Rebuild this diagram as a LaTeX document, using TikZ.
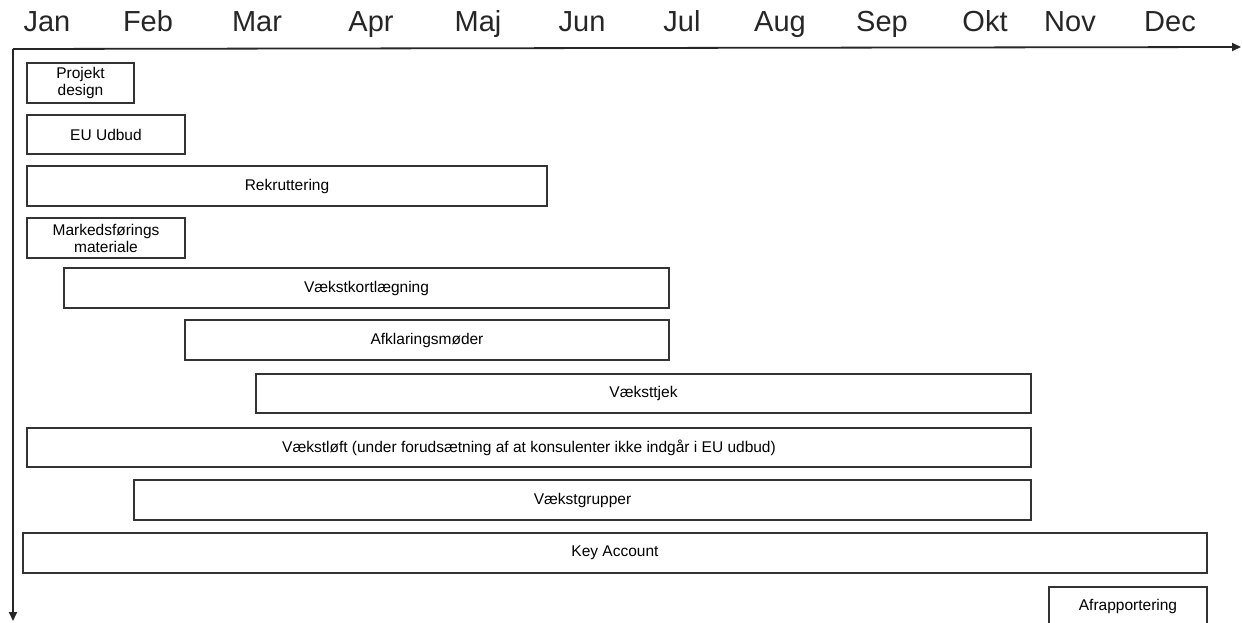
\documentclass[tikz,border=0pt]{standalone}
\usepackage{fontspec}
\setmainfont{Liberation Sans}
\usetikzlibrary{arrows.meta}
\begin{document}
\begin{tikzpicture}[x=1pt,y=-1pt,
  month/.style={font=\fontsize{29}{32}\selectfont, anchor=base, text=black!85},
  taskbox/.style={draw=black!80, line width=1.3pt, fill=white, inner sep=0pt,
    align=center, font=\fontsize{15.5}{17}\selectfont},
  axis/.style={line width=1.8pt, black!85, -{Triangle[length=9pt,width=8pt]}}]
\useasboundingbox (0,0) rectangle (1242,623);
\clip (0,0) rectangle (1242,623);

% month headings
\foreach \m/\x [count=\i] in {Jan/47,Feb/148,Mar/257,Apr/371,Maj/478,Jun/582,
    Jul/682,Aug/780,Sep/882,Okt/985,Nov/1070,Dec/1170}
  \node[month] (m\i) at (\x,32) {\m};

% axes
\coordinate (origin) at (13,49);
\coordinate (xend) at (1241,47);
\coordinate (yend) at (13,621);
\draw[axis] (origin) -- (xend);
\draw[axis] (origin) -- (yend);

% task bars: name, left, top, right, bottom, label
\newcommand\ganttbar[6]{%
  \node[taskbox, minimum width={(#4-#2)*1pt}, minimum height={(#5-#3)*1pt}]
    (#1) at ({(#2+#4)/2},{(#3+#5)/2}) {#6};}

\ganttbar{design}{27}{63}{134}{103}{Projekt\\design}
\ganttbar{udbud}{27}{115}{185}{154}{EU Udbud}
\ganttbar{rekrut}{27}{166}{547}{206}{Rekruttering}
\ganttbar{marked}{27}{218}{185}{258}{Markedsførings\\materiale}
\ganttbar{kort}{64}{268}{669}{308}{Vækstkortlægning}
\ganttbar{afklar}{185}{320}{669}{360}{Afklaringsmøder}
\ganttbar{tjek}{256}{374}{1031}{413}{Væksttjek}
\ganttbar{loft}{27}{428}{1031}{467}{Vækstløft (under forudsætning af at konsulenter ikke indgår i EU udbud)}
\ganttbar{grupper}{134}{480}{1031}{520}{Vækstgrupper}
\ganttbar{key}{23}{533}{1207}{573}{Key Account}
\ganttbar{afrap}{1049}{587}{1207}{625}{Afrapportering}
\end{tikzpicture}
\end{document}
